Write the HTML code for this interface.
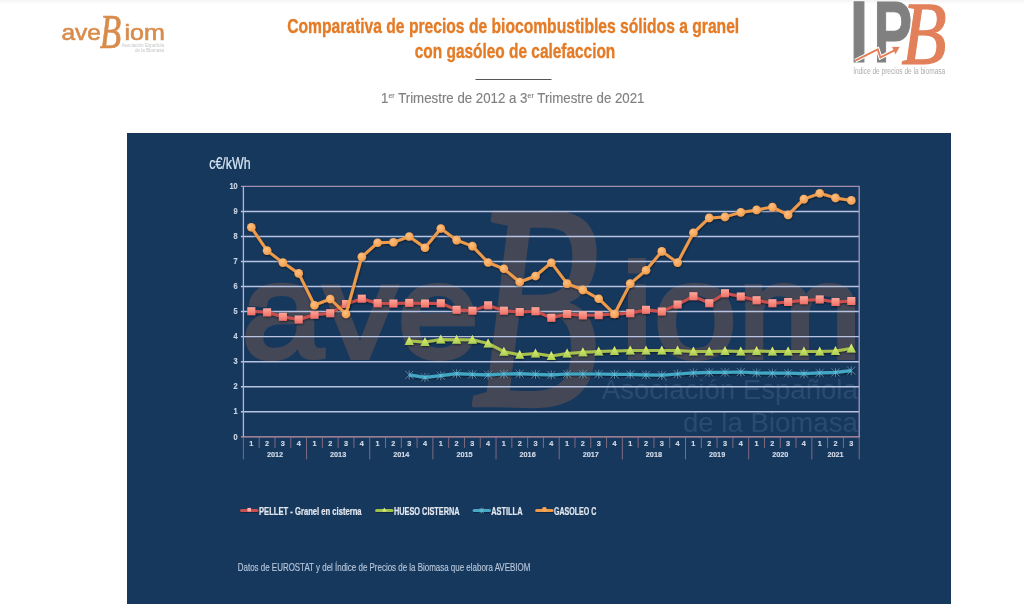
<!DOCTYPE html>
<html lang="es"><head><meta charset="utf-8"><title>Comparativa de precios de biocombustibles sólidos a granel con gasóleo de calefaccion</title>
<style>html,body{margin:0;padding:0;background:#fff;overflow:hidden}body{width:1024px;height:604px;position:relative;font-family:"Liberation Sans",sans-serif}svg{display:block;position:absolute;left:0;top:0}text{font-family:"Liberation Sans",sans-serif}</style></head><body>
<svg width="1024" height="604" viewBox="0 0 1024 604">
<defs>
<linearGradient id="topg" x1="0" y1="0" x2="0" y2="1"><stop offset="0" stop-color="#f3f3f3"/><stop offset="1" stop-color="#ffffff"/></linearGradient>
<radialGradient id="gG" cx="0.4" cy="0.35" r="0.7"><stop offset="0" stop-color="#ffc080"/><stop offset="1" stop-color="#f09a48"/></radialGradient>
<linearGradient id="gP" x1="0" y1="0" x2="0" y2="1"><stop offset="0" stop-color="#ffa79a"/><stop offset="1" stop-color="#ee6e66"/></linearGradient>
<linearGradient id="gH" x1="0" y1="0" x2="0" y2="1"><stop offset="0" stop-color="#e6f07a"/><stop offset="1" stop-color="#a9cf52"/></linearGradient>
<filter id="sh" x="-5%" y="-20%" width="110%" height="140%"><feDropShadow dx="0.4" dy="0.9" stdDeviation="0.9" flood-color="#000" flood-opacity="0.55"/></filter>
<filter id="sh2" filterUnits="userSpaceOnUse" x="200" y="495" width="420" height="30"><feDropShadow dx="0.3" dy="0.6" stdDeviation="0.6" flood-color="#000" flood-opacity="0.5"/></filter>
</defs>
<rect x="0" y="0" width="1024" height="604" fill="#fff"/>
<rect x="0" y="0" width="1024" height="4" fill="url(#topg)"/>
<g id="title" font-weight="bold" fill="#e47b26" stroke="#e47b26" stroke-width="0.35" font-size="19.8">
<text x="287.2" y="33" textLength="452" lengthAdjust="spacingAndGlyphs">Comparativa de precios de biocombustibles sólidos a granel</text>
<text x="414.8" y="58.3" textLength="200.5" lengthAdjust="spacingAndGlyphs">con gasóleo de calefaccion</text>
</g>
<rect x="475.5" y="79" width="76" height="1" fill="#555"/>
<text x="381" y="103" font-size="15" fill="#808080" stroke="#808080" stroke-width="0.15" textLength="263.5" lengthAdjust="spacingAndGlyphs">1<tspan font-size="8" dy="-5.5">er</tspan><tspan dy="5.5"> Trimestre de 2012 a 3</tspan><tspan font-size="8" dy="-5.5">er</tspan><tspan dy="5.5"> Trimestre de 2021</tspan></text>
<g transform="translate(62.7 39.6) scale(1)">
<text fill="#d98b4b" stroke="#d98b4b" stroke-width="0.6" font-size="22.6"><tspan x="-1.3" y="0.15" textLength="39.6" lengthAdjust="spacingAndGlyphs">ave</tspan><tspan x="37.0" y="8.0" style="font-family:'Liberation Serif',serif;font-style:italic" font-size="49" stroke="#d98b4b" stroke-width="0.7" stroke-linejoin="round" textLength="21.4" lengthAdjust="spacingAndGlyphs">B</tspan><tspan x="61.8" y="0.15" textLength="40.4" lengthAdjust="spacingAndGlyphs">iom</tspan></text>
<g fill="#c6c6c6" font-size="4.6" text-anchor="end"><text x="101.4" y="7">Asociación Española</text><text x="101.4" y="12.4">de la Biomasa</text></g>
</g>
<g id="ipb">
<text font-size="86.7" font-weight="bold" fill="#808080" stroke="#808080" stroke-width="1.2"><tspan x="849.6" y="61.9" textLength="19" lengthAdjust="spacingAndGlyphs">I</tspan><tspan x="873.6" y="61.9" textLength="38.6" lengthAdjust="spacingAndGlyphs">P</tspan><tspan x="901.5" y="63.2" style="font-family:'Liberation Serif',serif;font-style:italic;font-weight:normal" font-size="88" fill="#e2805b" stroke="#e2805b" stroke-width="1.3" stroke-linejoin="round" textLength="45" lengthAdjust="spacingAndGlyphs">B</tspan></text>
<polyline points="855.2,60.7 877.7,49.3 880.4,57.4 894.5,50.4" fill="none" stroke="#fff" stroke-width="4" stroke-linejoin="miter"/>
<polygon points="900.4,46.4 891.4,46.4 895.4,55" fill="#e2805b" stroke="#fff" stroke-width="0.8"/>
<polyline points="855.2,60.7 877.7,49.3 880.4,57.4 894.5,50.4" fill="none" stroke="#e2805b" stroke-width="1.9" stroke-linejoin="miter"/>
<text x="853.2" y="73.8" font-size="8.5" fill="#adadad" textLength="92" lengthAdjust="spacingAndGlyphs">índice de precios de la biomasa</text>
</g>
<rect x="127" y="133" width="824" height="471" fill="#17385d"/>
<text x="209.2" y="169.1" font-size="16.4" fill="#d6e6f3" stroke="#d6e6f3" stroke-width="0.22" textLength="41.4" lengthAdjust="spacingAndGlyphs">c€/kWh</text>
<g transform="translate(249.4 357.2) scale(6.0)">
<text fill="#d97c40" stroke="#d97c40" stroke-width="0.7" font-size="22.6" opacity="0.23"><tspan x="-1.3" y="0.15" textLength="39.6" lengthAdjust="spacingAndGlyphs">ave</tspan><tspan x="37.0" y="8.0" style="font-family:'Liberation Serif',serif;font-style:italic" font-size="49" stroke="#d97c40" stroke-width="0.7" stroke-linejoin="round" textLength="21.4" lengthAdjust="spacingAndGlyphs">B</tspan><tspan x="61.8" y="0.15" textLength="40.4" lengthAdjust="spacingAndGlyphs">iom</tspan></text>
<g fill="#8fb0d4" font-size="4.6" text-anchor="end" opacity="0.16"><text x="101.4" y="7">Asociación Española</text><text x="101.4" y="12.4">de la Biomasa</text></g>
</g>
<g id="grid" stroke="#b9c3e2" stroke-width="1.45">
<line x1="240.9" y1="411.74" x2="859.2" y2="411.74"/>
<line x1="240.9" y1="386.70" x2="859.2" y2="386.70"/>
<line x1="240.9" y1="361.66" x2="859.2" y2="361.66"/>
<line x1="240.9" y1="336.62" x2="859.2" y2="336.62"/>
<line x1="240.9" y1="311.58" x2="859.2" y2="311.58"/>
<line x1="240.9" y1="286.54" x2="859.2" y2="286.54"/>
<line x1="240.9" y1="261.50" x2="859.2" y2="261.50"/>
<line x1="240.9" y1="236.46" x2="859.2" y2="236.46"/>
<line x1="240.9" y1="211.42" x2="859.2" y2="211.42"/>
</g>
<line x1="240.9" y1="186.38" x2="859.7" y2="186.38" stroke="#a48cae" stroke-width="1.2"/>
<line x1="859.2" y1="186.38" x2="859.2" y2="436.9" stroke="#a796c0" stroke-width="1.3"/>
<line x1="859.2" y1="436.9" x2="859.2" y2="459.4" stroke="#c48c9c" stroke-opacity="0.6" stroke-width="1"/>
<line x1="243.4" y1="186.38" x2="243.4" y2="436.9" stroke="#b9b2dc" stroke-width="1.3"/>
<line x1="240.9" y1="436.9" x2="859.7" y2="436.9" stroke="#c795a4" stroke-width="1.3"/>
<g stroke="#c48c9c" stroke-opacity="0.6" stroke-width="1">
<line x1="243.40" y1="437.6" x2="243.40" y2="459.4"/>
<line x1="259.19" y1="437.6" x2="259.19" y2="447.9"/>
<line x1="274.98" y1="437.6" x2="274.98" y2="447.9"/>
<line x1="290.77" y1="437.6" x2="290.77" y2="447.9"/>
<line x1="306.56" y1="437.6" x2="306.56" y2="459.4"/>
<line x1="322.35" y1="437.6" x2="322.35" y2="447.9"/>
<line x1="338.14" y1="437.6" x2="338.14" y2="447.9"/>
<line x1="353.93" y1="437.6" x2="353.93" y2="447.9"/>
<line x1="369.72" y1="437.6" x2="369.72" y2="459.4"/>
<line x1="385.51" y1="437.6" x2="385.51" y2="447.9"/>
<line x1="401.30" y1="437.6" x2="401.30" y2="447.9"/>
<line x1="417.09" y1="437.6" x2="417.09" y2="447.9"/>
<line x1="432.88" y1="437.6" x2="432.88" y2="459.4"/>
<line x1="448.67" y1="437.6" x2="448.67" y2="447.9"/>
<line x1="464.46" y1="437.6" x2="464.46" y2="447.9"/>
<line x1="480.25" y1="437.6" x2="480.25" y2="447.9"/>
<line x1="496.04" y1="437.6" x2="496.04" y2="459.4"/>
<line x1="511.83" y1="437.6" x2="511.83" y2="447.9"/>
<line x1="527.62" y1="437.6" x2="527.62" y2="447.9"/>
<line x1="543.41" y1="437.6" x2="543.41" y2="447.9"/>
<line x1="559.19" y1="437.6" x2="559.19" y2="459.4"/>
<line x1="574.98" y1="437.6" x2="574.98" y2="447.9"/>
<line x1="590.77" y1="437.6" x2="590.77" y2="447.9"/>
<line x1="606.56" y1="437.6" x2="606.56" y2="447.9"/>
<line x1="622.35" y1="437.6" x2="622.35" y2="459.4"/>
<line x1="638.14" y1="437.6" x2="638.14" y2="447.9"/>
<line x1="653.93" y1="437.6" x2="653.93" y2="447.9"/>
<line x1="669.72" y1="437.6" x2="669.72" y2="447.9"/>
<line x1="685.51" y1="437.6" x2="685.51" y2="459.4"/>
<line x1="701.30" y1="437.6" x2="701.30" y2="447.9"/>
<line x1="717.09" y1="437.6" x2="717.09" y2="447.9"/>
<line x1="732.88" y1="437.6" x2="732.88" y2="447.9"/>
<line x1="748.67" y1="437.6" x2="748.67" y2="459.4"/>
<line x1="764.46" y1="437.6" x2="764.46" y2="447.9"/>
<line x1="780.25" y1="437.6" x2="780.25" y2="447.9"/>
<line x1="796.04" y1="437.6" x2="796.04" y2="447.9"/>
<line x1="811.83" y1="437.6" x2="811.83" y2="459.4"/>
<line x1="827.62" y1="437.6" x2="827.62" y2="447.9"/>
<line x1="843.41" y1="437.6" x2="843.41" y2="447.9"/>
</g>
<g font-size="8.4" font-weight="bold" fill="#c6d2e3" stroke="#c6d2e3" stroke-width="0.2">
<text x="233.6" y="439.6" textLength="4.1" lengthAdjust="spacingAndGlyphs">0</text>
<text x="233.6" y="414.4" textLength="4.1" lengthAdjust="spacingAndGlyphs">1</text>
<text x="233.6" y="389.4" textLength="4.1" lengthAdjust="spacingAndGlyphs">2</text>
<text x="233.6" y="364.4" textLength="4.1" lengthAdjust="spacingAndGlyphs">3</text>
<text x="233.6" y="339.3" textLength="4.1" lengthAdjust="spacingAndGlyphs">4</text>
<text x="233.6" y="314.3" textLength="4.1" lengthAdjust="spacingAndGlyphs">5</text>
<text x="233.6" y="289.2" textLength="4.1" lengthAdjust="spacingAndGlyphs">6</text>
<text x="233.6" y="264.2" textLength="4.1" lengthAdjust="spacingAndGlyphs">7</text>
<text x="233.6" y="239.2" textLength="4.1" lengthAdjust="spacingAndGlyphs">8</text>
<text x="233.6" y="214.1" textLength="4.1" lengthAdjust="spacingAndGlyphs">9</text>
<text x="229.5" y="189.1" textLength="8.2" lengthAdjust="spacingAndGlyphs">10</text>
</g>
<g font-size="7.3" font-weight="bold" fill="#d3dbe8" stroke="#d3dbe8" stroke-width="0.15" text-anchor="middle">
<text x="251.3" y="445.8">1</text>
<text x="267.1" y="445.8">2</text>
<text x="282.9" y="445.8">3</text>
<text x="298.7" y="445.8">4</text>
<text x="314.5" y="445.8">1</text>
<text x="330.2" y="445.8">2</text>
<text x="346.0" y="445.8">3</text>
<text x="361.8" y="445.8">4</text>
<text x="377.6" y="445.8">1</text>
<text x="393.4" y="445.8">2</text>
<text x="409.2" y="445.8">3</text>
<text x="425.0" y="445.8">4</text>
<text x="440.8" y="445.8">1</text>
<text x="456.6" y="445.8">2</text>
<text x="472.4" y="445.8">3</text>
<text x="488.1" y="445.8">4</text>
<text x="503.9" y="445.8">1</text>
<text x="519.7" y="445.8">2</text>
<text x="535.5" y="445.8">3</text>
<text x="551.3" y="445.8">4</text>
<text x="567.1" y="445.8">1</text>
<text x="582.9" y="445.8">2</text>
<text x="598.7" y="445.8">3</text>
<text x="614.5" y="445.8">4</text>
<text x="630.2" y="445.8">1</text>
<text x="646.0" y="445.8">2</text>
<text x="661.8" y="445.8">3</text>
<text x="677.6" y="445.8">4</text>
<text x="693.4" y="445.8">1</text>
<text x="709.2" y="445.8">2</text>
<text x="725.0" y="445.8">3</text>
<text x="740.8" y="445.8">4</text>
<text x="756.6" y="445.8">1</text>
<text x="772.4" y="445.8">2</text>
<text x="788.1" y="445.8">3</text>
<text x="803.9" y="445.8">4</text>
<text x="819.7" y="445.8">1</text>
<text x="835.5" y="445.8">2</text>
<text x="851.3" y="445.8">3</text>
<text x="275.0" y="456.6">2012</text>
<text x="338.1" y="456.6">2013</text>
<text x="401.3" y="456.6">2014</text>
<text x="464.5" y="456.6">2015</text>
<text x="527.6" y="456.6">2016</text>
<text x="590.8" y="456.6">2017</text>
<text x="653.9" y="456.6">2018</text>
<text x="717.1" y="456.6">2019</text>
<text x="780.3" y="456.6">2020</text>
<text x="835.5" y="456.6">2021</text>
</g>
<g id="pellet" filter="url(#sh)">
<polyline points="251.3,311.2 267.1,312.3 282.9,316.8 298.7,319.5 314.5,314.8 330.2,313.2 346.0,304.0 361.8,298.7 377.6,303.2 393.4,303.5 409.2,302.9 425.0,303.5 440.8,303.2 456.6,309.8 472.4,310.7 488.1,305.3 503.9,310.7 519.7,312.0 535.5,311.2 551.3,317.8 567.1,314.0 582.9,315.3 598.7,315.1 614.5,314.0 630.2,313.2 646.0,309.8 661.8,311.5 677.6,304.5 693.4,296.2 709.2,303.2 725.0,293.2 740.8,296.5 756.6,300.2 772.4,303.2 788.1,302.0 803.9,300.2 819.7,299.4 835.5,302.0 851.3,301.0" fill="none" stroke="#c8504d" stroke-width="3" stroke-linejoin="round"/>
<rect x="247.3" y="307.2" width="8" height="8" fill="url(#gP)"/>
<rect x="263.1" y="308.3" width="8" height="8" fill="url(#gP)"/>
<rect x="278.9" y="312.8" width="8" height="8" fill="url(#gP)"/>
<rect x="294.7" y="315.5" width="8" height="8" fill="url(#gP)"/>
<rect x="310.5" y="310.8" width="8" height="8" fill="url(#gP)"/>
<rect x="326.2" y="309.2" width="8" height="8" fill="url(#gP)"/>
<rect x="342.0" y="300.0" width="8" height="8" fill="url(#gP)"/>
<rect x="357.8" y="294.7" width="8" height="8" fill="url(#gP)"/>
<rect x="373.6" y="299.2" width="8" height="8" fill="url(#gP)"/>
<rect x="389.4" y="299.5" width="8" height="8" fill="url(#gP)"/>
<rect x="405.2" y="298.9" width="8" height="8" fill="url(#gP)"/>
<rect x="421.0" y="299.5" width="8" height="8" fill="url(#gP)"/>
<rect x="436.8" y="299.2" width="8" height="8" fill="url(#gP)"/>
<rect x="452.6" y="305.8" width="8" height="8" fill="url(#gP)"/>
<rect x="468.4" y="306.7" width="8" height="8" fill="url(#gP)"/>
<rect x="484.1" y="301.3" width="8" height="8" fill="url(#gP)"/>
<rect x="499.9" y="306.7" width="8" height="8" fill="url(#gP)"/>
<rect x="515.7" y="308.0" width="8" height="8" fill="url(#gP)"/>
<rect x="531.5" y="307.2" width="8" height="8" fill="url(#gP)"/>
<rect x="547.3" y="313.8" width="8" height="8" fill="url(#gP)"/>
<rect x="563.1" y="310.0" width="8" height="8" fill="url(#gP)"/>
<rect x="578.9" y="311.3" width="8" height="8" fill="url(#gP)"/>
<rect x="594.7" y="311.1" width="8" height="8" fill="url(#gP)"/>
<rect x="610.5" y="310.0" width="8" height="8" fill="url(#gP)"/>
<rect x="626.2" y="309.2" width="8" height="8" fill="url(#gP)"/>
<rect x="642.0" y="305.8" width="8" height="8" fill="url(#gP)"/>
<rect x="657.8" y="307.5" width="8" height="8" fill="url(#gP)"/>
<rect x="673.6" y="300.5" width="8" height="8" fill="url(#gP)"/>
<rect x="689.4" y="292.2" width="8" height="8" fill="url(#gP)"/>
<rect x="705.2" y="299.2" width="8" height="8" fill="url(#gP)"/>
<rect x="721.0" y="289.2" width="8" height="8" fill="url(#gP)"/>
<rect x="736.8" y="292.5" width="8" height="8" fill="url(#gP)"/>
<rect x="752.6" y="296.2" width="8" height="8" fill="url(#gP)"/>
<rect x="768.4" y="299.2" width="8" height="8" fill="url(#gP)"/>
<rect x="784.1" y="298.0" width="8" height="8" fill="url(#gP)"/>
<rect x="799.9" y="296.2" width="8" height="8" fill="url(#gP)"/>
<rect x="815.7" y="295.4" width="8" height="8" fill="url(#gP)"/>
<rect x="831.5" y="298.0" width="8" height="8" fill="url(#gP)"/>
<rect x="847.3" y="297.0" width="8" height="8" fill="url(#gP)"/>
</g>
<g id="hueso" filter="url(#sh)">
<polyline points="409.2,341.0 425.0,342.0 440.8,339.4 456.6,339.7 472.4,339.7 488.1,343.4 503.9,351.7 519.7,354.7 535.5,353.4 551.3,356.0 567.1,353.4 582.9,352.2 598.7,351.4 614.5,351.0 630.2,350.5 646.0,350.5 661.8,350.5 677.6,350.5 693.4,351.4 709.2,351.4 725.0,351.0 740.8,351.4 756.6,351.0 772.4,351.4 788.1,351.4 803.9,351.4 819.7,351.4 835.5,351.0 851.3,348.5" fill="none" stroke="#a8c04e" stroke-width="3" stroke-linejoin="round"/>
<polygon points="409.2,336.0 413.8,345.0 404.6,345.0" fill="url(#gH)"/>
<polygon points="425.0,337.0 429.6,346.0 420.4,346.0" fill="url(#gH)"/>
<polygon points="440.8,334.4 445.4,343.4 436.2,343.4" fill="url(#gH)"/>
<polygon points="456.6,334.7 461.2,343.7 452.0,343.7" fill="url(#gH)"/>
<polygon points="472.4,334.7 477.0,343.7 467.8,343.7" fill="url(#gH)"/>
<polygon points="488.1,338.4 492.7,347.4 483.5,347.4" fill="url(#gH)"/>
<polygon points="503.9,346.7 508.5,355.7 499.3,355.7" fill="url(#gH)"/>
<polygon points="519.7,349.7 524.3,358.7 515.1,358.7" fill="url(#gH)"/>
<polygon points="535.5,348.4 540.1,357.4 530.9,357.4" fill="url(#gH)"/>
<polygon points="551.3,351.0 555.9,360.0 546.7,360.0" fill="url(#gH)"/>
<polygon points="567.1,348.4 571.7,357.4 562.5,357.4" fill="url(#gH)"/>
<polygon points="582.9,347.2 587.5,356.2 578.3,356.2" fill="url(#gH)"/>
<polygon points="598.7,346.4 603.3,355.4 594.1,355.4" fill="url(#gH)"/>
<polygon points="614.5,346.0 619.1,355.0 609.9,355.0" fill="url(#gH)"/>
<polygon points="630.2,345.5 634.8,354.5 625.6,354.5" fill="url(#gH)"/>
<polygon points="646.0,345.5 650.6,354.5 641.4,354.5" fill="url(#gH)"/>
<polygon points="661.8,345.5 666.4,354.5 657.2,354.5" fill="url(#gH)"/>
<polygon points="677.6,345.5 682.2,354.5 673.0,354.5" fill="url(#gH)"/>
<polygon points="693.4,346.4 698.0,355.4 688.8,355.4" fill="url(#gH)"/>
<polygon points="709.2,346.4 713.8,355.4 704.6,355.4" fill="url(#gH)"/>
<polygon points="725.0,346.0 729.6,355.0 720.4,355.0" fill="url(#gH)"/>
<polygon points="740.8,346.4 745.4,355.4 736.2,355.4" fill="url(#gH)"/>
<polygon points="756.6,346.0 761.2,355.0 752.0,355.0" fill="url(#gH)"/>
<polygon points="772.4,346.4 777.0,355.4 767.8,355.4" fill="url(#gH)"/>
<polygon points="788.1,346.4 792.7,355.4 783.5,355.4" fill="url(#gH)"/>
<polygon points="803.9,346.4 808.5,355.4 799.3,355.4" fill="url(#gH)"/>
<polygon points="819.7,346.4 824.3,355.4 815.1,355.4" fill="url(#gH)"/>
<polygon points="835.5,346.0 840.1,355.0 830.9,355.0" fill="url(#gH)"/>
<polygon points="851.3,343.5 855.9,352.5 846.7,352.5" fill="url(#gH)"/>
</g>
<g id="astilla" filter="url(#sh)">
<polyline points="409.2,374.9 425.0,377.4 440.8,375.7 456.6,373.6 472.4,374.4 488.1,374.9 503.9,374.0 519.7,373.7 535.5,374.4 551.3,374.9 567.1,374.0 582.9,374.0 598.7,374.0 614.5,374.4 630.2,374.4 646.0,374.9 661.8,375.2 677.6,374.0 693.4,372.9 709.2,372.4 725.0,372.4 740.8,372.0 756.6,372.9 772.4,373.2 788.1,373.2 803.9,373.7 819.7,372.9 835.5,372.4 851.3,370.7" fill="none" stroke="#42a7c5" stroke-width="3.2" stroke-linejoin="round"/>
<g stroke="#8fd0e4" stroke-width="0.9" opacity="0.5">
<line x1="405.2" y1="370.9" x2="413.2" y2="378.9"/><line x1="405.2" y1="378.9" x2="413.2" y2="370.9"/><line x1="409.2" y1="370.4" x2="409.2" y2="379.4"/>
<line x1="421.0" y1="373.4" x2="429.0" y2="381.4"/><line x1="421.0" y1="381.4" x2="429.0" y2="373.4"/><line x1="425.0" y1="372.9" x2="425.0" y2="381.9"/>
<line x1="436.8" y1="371.7" x2="444.8" y2="379.7"/><line x1="436.8" y1="379.7" x2="444.8" y2="371.7"/><line x1="440.8" y1="371.2" x2="440.8" y2="380.2"/>
<line x1="452.6" y1="369.6" x2="460.6" y2="377.6"/><line x1="452.6" y1="377.6" x2="460.6" y2="369.6"/><line x1="456.6" y1="369.1" x2="456.6" y2="378.1"/>
<line x1="468.4" y1="370.4" x2="476.4" y2="378.4"/><line x1="468.4" y1="378.4" x2="476.4" y2="370.4"/><line x1="472.4" y1="369.9" x2="472.4" y2="378.9"/>
<line x1="484.1" y1="370.9" x2="492.1" y2="378.9"/><line x1="484.1" y1="378.9" x2="492.1" y2="370.9"/><line x1="488.1" y1="370.4" x2="488.1" y2="379.4"/>
<line x1="499.9" y1="370.0" x2="507.9" y2="378.0"/><line x1="499.9" y1="378.0" x2="507.9" y2="370.0"/><line x1="503.9" y1="369.5" x2="503.9" y2="378.5"/>
<line x1="515.7" y1="369.7" x2="523.7" y2="377.7"/><line x1="515.7" y1="377.7" x2="523.7" y2="369.7"/><line x1="519.7" y1="369.2" x2="519.7" y2="378.2"/>
<line x1="531.5" y1="370.4" x2="539.5" y2="378.4"/><line x1="531.5" y1="378.4" x2="539.5" y2="370.4"/><line x1="535.5" y1="369.9" x2="535.5" y2="378.9"/>
<line x1="547.3" y1="370.9" x2="555.3" y2="378.9"/><line x1="547.3" y1="378.9" x2="555.3" y2="370.9"/><line x1="551.3" y1="370.4" x2="551.3" y2="379.4"/>
<line x1="563.1" y1="370.0" x2="571.1" y2="378.0"/><line x1="563.1" y1="378.0" x2="571.1" y2="370.0"/><line x1="567.1" y1="369.5" x2="567.1" y2="378.5"/>
<line x1="578.9" y1="370.0" x2="586.9" y2="378.0"/><line x1="578.9" y1="378.0" x2="586.9" y2="370.0"/><line x1="582.9" y1="369.5" x2="582.9" y2="378.5"/>
<line x1="594.7" y1="370.0" x2="602.7" y2="378.0"/><line x1="594.7" y1="378.0" x2="602.7" y2="370.0"/><line x1="598.7" y1="369.5" x2="598.7" y2="378.5"/>
<line x1="610.5" y1="370.4" x2="618.5" y2="378.4"/><line x1="610.5" y1="378.4" x2="618.5" y2="370.4"/><line x1="614.5" y1="369.9" x2="614.5" y2="378.9"/>
<line x1="626.2" y1="370.4" x2="634.2" y2="378.4"/><line x1="626.2" y1="378.4" x2="634.2" y2="370.4"/><line x1="630.2" y1="369.9" x2="630.2" y2="378.9"/>
<line x1="642.0" y1="370.9" x2="650.0" y2="378.9"/><line x1="642.0" y1="378.9" x2="650.0" y2="370.9"/><line x1="646.0" y1="370.4" x2="646.0" y2="379.4"/>
<line x1="657.8" y1="371.2" x2="665.8" y2="379.2"/><line x1="657.8" y1="379.2" x2="665.8" y2="371.2"/><line x1="661.8" y1="370.7" x2="661.8" y2="379.7"/>
<line x1="673.6" y1="370.0" x2="681.6" y2="378.0"/><line x1="673.6" y1="378.0" x2="681.6" y2="370.0"/><line x1="677.6" y1="369.5" x2="677.6" y2="378.5"/>
<line x1="689.4" y1="368.9" x2="697.4" y2="376.9"/><line x1="689.4" y1="376.9" x2="697.4" y2="368.9"/><line x1="693.4" y1="368.4" x2="693.4" y2="377.4"/>
<line x1="705.2" y1="368.4" x2="713.2" y2="376.4"/><line x1="705.2" y1="376.4" x2="713.2" y2="368.4"/><line x1="709.2" y1="367.9" x2="709.2" y2="376.9"/>
<line x1="721.0" y1="368.4" x2="729.0" y2="376.4"/><line x1="721.0" y1="376.4" x2="729.0" y2="368.4"/><line x1="725.0" y1="367.9" x2="725.0" y2="376.9"/>
<line x1="736.8" y1="368.0" x2="744.8" y2="376.0"/><line x1="736.8" y1="376.0" x2="744.8" y2="368.0"/><line x1="740.8" y1="367.5" x2="740.8" y2="376.5"/>
<line x1="752.6" y1="368.9" x2="760.6" y2="376.9"/><line x1="752.6" y1="376.9" x2="760.6" y2="368.9"/><line x1="756.6" y1="368.4" x2="756.6" y2="377.4"/>
<line x1="768.4" y1="369.2" x2="776.4" y2="377.2"/><line x1="768.4" y1="377.2" x2="776.4" y2="369.2"/><line x1="772.4" y1="368.7" x2="772.4" y2="377.7"/>
<line x1="784.1" y1="369.2" x2="792.1" y2="377.2"/><line x1="784.1" y1="377.2" x2="792.1" y2="369.2"/><line x1="788.1" y1="368.7" x2="788.1" y2="377.7"/>
<line x1="799.9" y1="369.7" x2="807.9" y2="377.7"/><line x1="799.9" y1="377.7" x2="807.9" y2="369.7"/><line x1="803.9" y1="369.2" x2="803.9" y2="378.2"/>
<line x1="815.7" y1="368.9" x2="823.7" y2="376.9"/><line x1="815.7" y1="376.9" x2="823.7" y2="368.9"/><line x1="819.7" y1="368.4" x2="819.7" y2="377.4"/>
<line x1="831.5" y1="368.4" x2="839.5" y2="376.4"/><line x1="831.5" y1="376.4" x2="839.5" y2="368.4"/><line x1="835.5" y1="367.9" x2="835.5" y2="376.9"/>
<line x1="847.3" y1="366.7" x2="855.3" y2="374.7"/><line x1="847.3" y1="374.7" x2="855.3" y2="366.7"/><line x1="851.3" y1="366.2" x2="851.3" y2="375.2"/>
</g></g>
<g id="gasoleo" filter="url(#sh)">
<polyline points="251.3,227.3 267.1,250.6 282.9,262.6 298.7,273.4 314.5,305.2 330.2,299.0 346.0,314.0 361.8,256.9 377.6,242.8 393.4,242.3 409.2,236.5 425.0,247.8 440.8,228.5 456.6,240.1 472.4,246.1 488.1,262.5 503.9,268.8 519.7,282.0 535.5,276.0 551.3,262.7 567.1,283.6 582.9,289.9 598.7,298.7 614.5,314.0 630.2,283.6 646.0,270.3 661.8,251.4 677.6,262.6 693.4,232.8 709.2,217.9 725.0,216.9 740.8,212.4 756.6,209.9 772.4,207.1 788.1,214.9 803.9,199.1 819.7,193.3 835.5,197.9 851.3,200.4" fill="none" stroke="#ee9a4c" stroke-width="3" stroke-linejoin="round"/>
<circle cx="251.3" cy="227.3" r="4.3" fill="url(#gG)"/>
<circle cx="267.1" cy="250.6" r="4.3" fill="url(#gG)"/>
<circle cx="282.9" cy="262.6" r="4.3" fill="url(#gG)"/>
<circle cx="298.7" cy="273.4" r="4.3" fill="url(#gG)"/>
<circle cx="314.5" cy="305.2" r="4.3" fill="url(#gG)"/>
<circle cx="330.2" cy="299.0" r="4.3" fill="url(#gG)"/>
<circle cx="346.0" cy="314.0" r="4.3" fill="url(#gG)"/>
<circle cx="361.8" cy="256.9" r="4.3" fill="url(#gG)"/>
<circle cx="377.6" cy="242.8" r="4.3" fill="url(#gG)"/>
<circle cx="393.4" cy="242.3" r="4.3" fill="url(#gG)"/>
<circle cx="409.2" cy="236.5" r="4.3" fill="url(#gG)"/>
<circle cx="425.0" cy="247.8" r="4.3" fill="url(#gG)"/>
<circle cx="440.8" cy="228.5" r="4.3" fill="url(#gG)"/>
<circle cx="456.6" cy="240.1" r="4.3" fill="url(#gG)"/>
<circle cx="472.4" cy="246.1" r="4.3" fill="url(#gG)"/>
<circle cx="488.1" cy="262.5" r="4.3" fill="url(#gG)"/>
<circle cx="503.9" cy="268.8" r="4.3" fill="url(#gG)"/>
<circle cx="519.7" cy="282.0" r="4.3" fill="url(#gG)"/>
<circle cx="535.5" cy="276.0" r="4.3" fill="url(#gG)"/>
<circle cx="551.3" cy="262.7" r="4.3" fill="url(#gG)"/>
<circle cx="567.1" cy="283.6" r="4.3" fill="url(#gG)"/>
<circle cx="582.9" cy="289.9" r="4.3" fill="url(#gG)"/>
<circle cx="598.7" cy="298.7" r="4.3" fill="url(#gG)"/>
<circle cx="614.5" cy="314.0" r="4.3" fill="url(#gG)"/>
<circle cx="630.2" cy="283.6" r="4.3" fill="url(#gG)"/>
<circle cx="646.0" cy="270.3" r="4.3" fill="url(#gG)"/>
<circle cx="661.8" cy="251.4" r="4.3" fill="url(#gG)"/>
<circle cx="677.6" cy="262.6" r="4.3" fill="url(#gG)"/>
<circle cx="693.4" cy="232.8" r="4.3" fill="url(#gG)"/>
<circle cx="709.2" cy="217.9" r="4.3" fill="url(#gG)"/>
<circle cx="725.0" cy="216.9" r="4.3" fill="url(#gG)"/>
<circle cx="740.8" cy="212.4" r="4.3" fill="url(#gG)"/>
<circle cx="756.6" cy="209.9" r="4.3" fill="url(#gG)"/>
<circle cx="772.4" cy="207.1" r="4.3" fill="url(#gG)"/>
<circle cx="788.1" cy="214.9" r="4.3" fill="url(#gG)"/>
<circle cx="803.9" cy="199.1" r="4.3" fill="url(#gG)"/>
<circle cx="819.7" cy="193.3" r="4.3" fill="url(#gG)"/>
<circle cx="835.5" cy="197.9" r="4.3" fill="url(#gG)"/>
<circle cx="851.3" cy="200.4" r="4.3" fill="url(#gG)"/>
</g>
<g id="legend" font-size="10.3" font-weight="bold" fill="#e3e8f0">
<line x1="241.5" y1="510.5" x2="256.90000000000003" y2="510.5" stroke="#c8504d" stroke-width="3" stroke-linecap="round" filter="url(#sh2)"/>
<rect x="247.4" y="507.9" width="3.6" height="3.6" fill="#ffb0a8"/>
<text x="259" y="514.9" stroke="#e3e8f0" stroke-width="0.2" textLength="102.6" lengthAdjust="spacingAndGlyphs">PELLET - Granel en cisterna</text>
<line x1="376.59999999999997" y1="510.5" x2="392.0" y2="510.5" stroke="#9fc24a" stroke-width="3" stroke-linecap="round" filter="url(#sh2)"/>
<polygon points="384.29999999999995,507.5 386.49999999999994,511.5 382.09999999999997,511.5" fill="#dcea88"/>
<text x="394" y="514.9" stroke="#e3e8f0" stroke-width="0.2" textLength="65.6" lengthAdjust="spacingAndGlyphs">HUESO CISTERNA</text>
<line x1="474.09999999999997" y1="510.5" x2="489.5" y2="510.5" stroke="#46a9c6" stroke-width="3" stroke-linecap="round" filter="url(#sh2)"/>
<g stroke="#6fc0d8" stroke-width="0.7"><line x1="479.79999999999995" y1="508.1" x2="483.79999999999995" y2="512.9"/><line x1="479.79999999999995" y1="512.9" x2="483.79999999999995" y2="508.1"/><line x1="481.79999999999995" y1="507.7" x2="481.79999999999995" y2="513.3"/></g>
<text x="491.2" y="514.9" stroke="#e3e8f0" stroke-width="0.2" textLength="31.3" lengthAdjust="spacingAndGlyphs">ASTILLA</text>
<line x1="536.7" y1="510.5" x2="552.1" y2="510.5" stroke="#ee9a4c" stroke-width="3" stroke-linecap="round" filter="url(#sh2)"/>
<circle cx="544.4" cy="509.5" r="2.4" fill="#f7a858"/>
<text x="554" y="514.9" stroke="#e3e8f0" stroke-width="0.2" textLength="42.3" lengthAdjust="spacingAndGlyphs">GASOLEO C</text>
</g>
<text x="237.8" y="570.5" font-size="10.5" fill="#b9c9de" stroke="#b9c9de" stroke-width="0.12" textLength="292.5" lengthAdjust="spacingAndGlyphs">Datos de EUROSTAT y del Índice de Precios de la Biomasa que elabora AVEBIOM</text>
</svg></body></html>
